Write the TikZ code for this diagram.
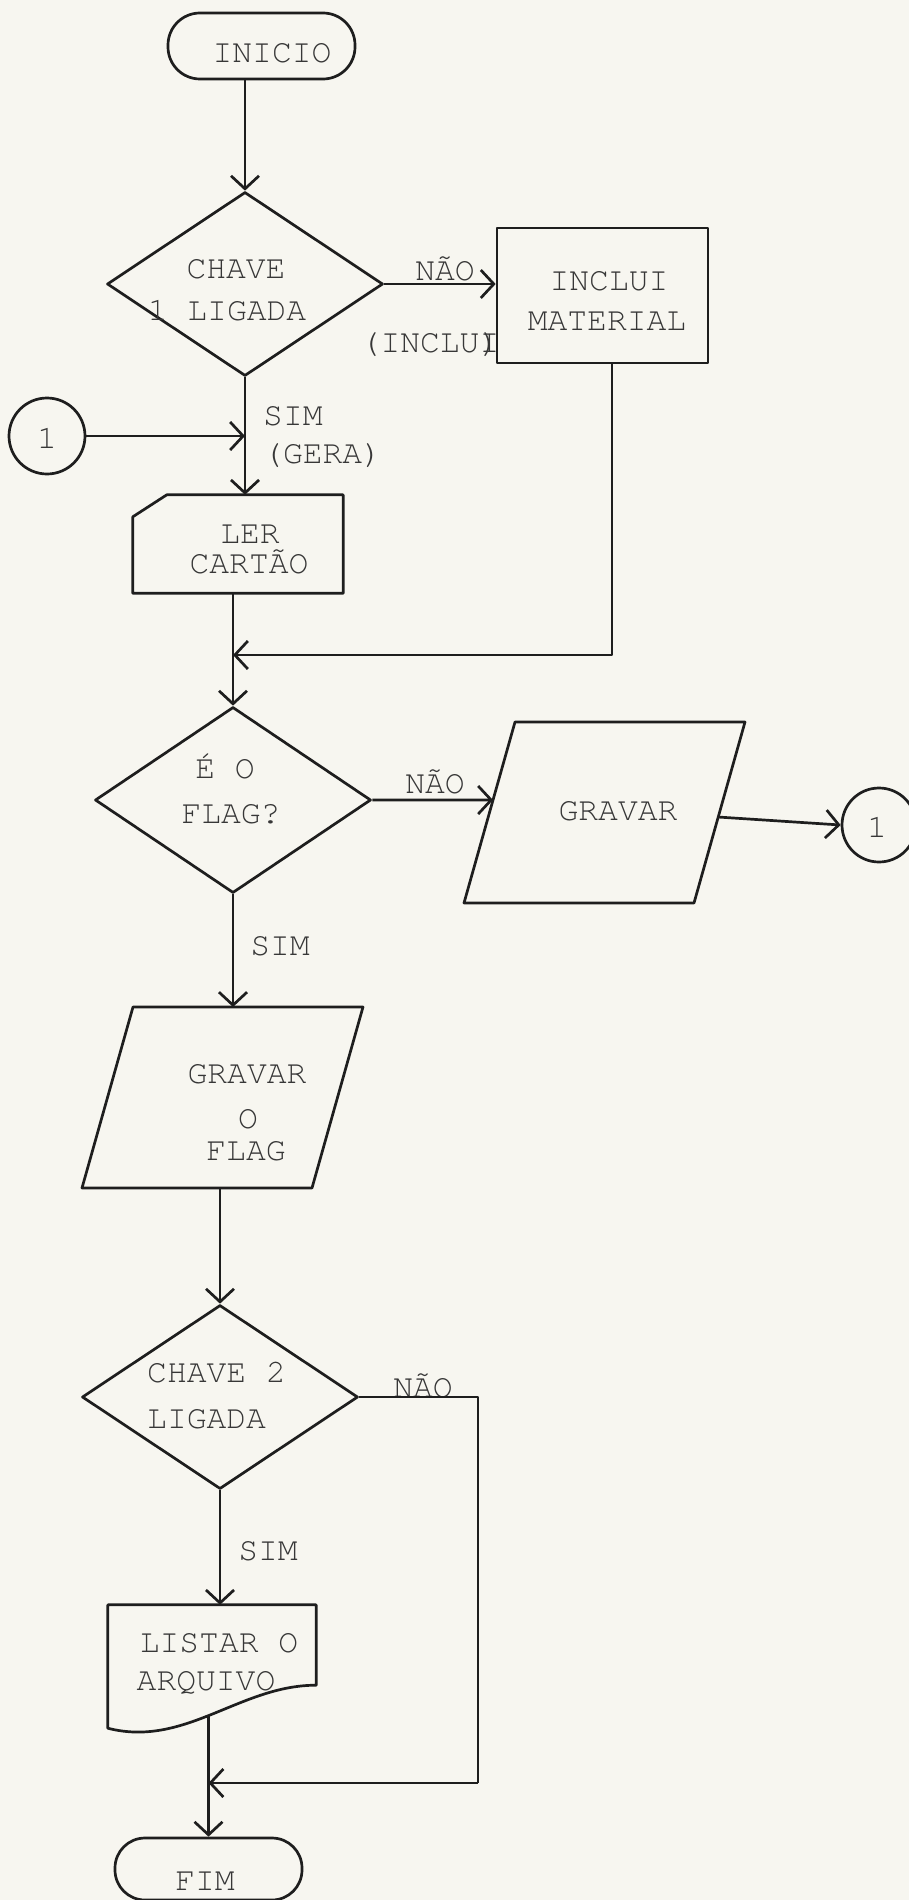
\documentclass[tikz,border=0pt]{standalone}
\usepackage{fontspec}
\newfontfamily\tw{TeX Gyre Cursor}
\usetikzlibrary{shapes.geometric,arrows.meta,calc}
\definecolor{paper}{RGB}{247,246,240}
\definecolor{ink}{RGB}{30,30,30}
\definecolor{inkt}{RGB}{55,55,55}
\begin{document}
\begin{tikzpicture}[x=1pt,y=-1pt,
 ln/.style={line width=2.7pt, draw=ink, line join=round},
 arr/.style={ln, -{Straight Barb[length=13pt,width=28pt]}},
 lbl/.style={font=\tw\fontsize{33}{40}\selectfont, text=inkt, inner sep=0pt, anchor=base},
 term/.style={ln, rectangle, rounded corners=32pt, minimum width=187pt, minimum height=66pt, inner sep=0pt},
 dec/.style={ln, diamond, minimum width=276pt, minimum height=184pt, inner sep=0pt},
 proc/.style={ln, rectangle, minimum width=211pt, minimum height=135pt, inner sep=0pt},
 conn/.style={ln, circle, minimum size=76pt, inner sep=0pt},
 ghost/.style={rectangle, draw=none, inner sep=0pt}
]
\fill[paper] (0,0) rectangle (909,1900);
\useasboundingbox (0,0) rectangle (909,1900);

% shapes
\node[term] (ini) at (261.5,46) {};
\node[dec] (d1) at (245,284) {};
\node[proc] (incl) at (602.5,295.5) {};
\node[conn] (c1) at (47,436) {};
\node[ghost, minimum width=210pt, minimum height=98pt] (card) at (238,544) {};
\draw[ln] ([xshift=34pt]card.north west) -- (card.north east) -- (card.south east)
  -- (card.south west) -- ([yshift=-22pt]card.north west) -- cycle;
\node[dec, minimum height=186pt] (d2) at (233,800) {};
% parallelogram GRAVAR
\coordinate (g1tl) at (515,722);
\coordinate (g1tr) at (745,722);
\coordinate (g1br) at (694,903);
\coordinate (g1bl) at (464,903);
\draw[ln] (g1tl) -- (g1tr) -- (g1br) -- (g1bl) -- cycle;
\coordinate (g1in) at ($(g1tl)!0.431!(g1bl)$);
\coordinate (g1out) at ($(g1tr)!0.525!(g1br)$);
\node[conn, minimum size=74pt] (c2) at (879,825) {};
% parallelogram GRAVAR O FLAG
\coordinate (g2tl) at (133,1007);
\coordinate (g2tr) at (363,1007);
\coordinate (g2br) at (312,1188);
\coordinate (g2bl) at (82,1188);
\draw[ln] (g2tl) -- (g2tr) -- (g2br) -- (g2bl) -- cycle;
\node[dec] (d3) at (220,1397) {};
\node[ghost, minimum width=208pt, minimum height=123pt] (doc) at (212,1666.5) {};
\draw[ln] (doc.north west) -- (doc.north east) -- ([yshift=43pt]doc.south east)
  .. controls (240,1685) and (185,1748) .. (doc.south west) -- cycle;
\node[term, minimum height=62pt, rounded corners=30pt] (fim) at (208.5,1869) {};

% texts
\node[lbl] (tini) at (272,63) {INICIO};
\node[lbl] (td1a) at (236,278) {CHAVE};
\node[lbl] (td1b) at (227,320) {1 LIGADA};
\node[lbl] (tnao1) at (445,280) {NÃO};
\node[lbl] (tinclud) at (430,352) {(INCLU\rlap{I})};
\node[lbl] (tincl1) at (609,290) {INCLUI};
\node[lbl] (tincl2) at (607,330) {MATERIAL};
\node[lbl] (tc1) at (47,448) {1};
\node[lbl, anchor=base west] (tsim1) at (263,425) {SIM};
\node[lbl, anchor=base west] (tgera) at (263,463) {(GERA)};
\node[lbl] (tler1) at (250,543) {LER};
\node[lbl] (tler2) at (249,573) {CARTÃO};
\node[lbl] (td2a) at (225,778) {É O};
\node[lbl] (td2b) at (231,823) {FLAG?};
\node[lbl] (tnao2) at (435,793) {NÃO};
\node[lbl] (tg1) at (618,820) {GRAVAR};
\node[lbl] (tc2) at (877,837) {1};
\node[lbl] (tsim2) at (280,955) {SIM};
\node[lbl] (tg2a) at (247,1083) {GRAVAR};
\node[lbl] (tg2b) at (248,1128) {O};
\node[lbl] (tg2c) at (246,1160) {FLAG};
\node[lbl, anchor=base west] (td3a) at (147,1382) {CHAVE 2};
\node[lbl, anchor=base west] (td3b) at (147,1428) {LIGADA};
\node[lbl] (tnao3) at (423,1397) {NÃO};
\node[lbl] (tsim3) at (268,1560) {SIM};
\node[lbl] (tdoc1) at (219,1652) {LISTAR O};
\node[lbl] (tdoc2) at (206,1690) {ARQUIVO};
\node[lbl] (tfim) at (205,1890) {FIM};

% helper coordinates
\coordinate (r1) at (612,655);
\coordinate (k1) at (478,1783);
\coordinate (docb) at (208.5,1716);
\coordinate (g2top) at (233,1007);
\coordinate (g2bot) at (220,1188);

% connectors
\draw[arr] (ini.south -| d1.north) -- (d1.north);
\draw[arr] (d1.east) -- (d1.east -| incl.west);
\draw[arr] (d1.south) -- (d1.south |- card.north);
\draw[arr] (c1.east) -- (c1.east -| d1.south);
\draw[arr] (card.south -| d2.north) -- (d2.north);
\draw[arr] (incl.south -| r1) -- (r1) -- (r1 -| d2.north);
\draw[arr] (d2.east) -- (g1in);
\draw[arr] (g1out) -- (c2.west);
\draw[arr] (d2.south) -- (g2top);
\draw[arr] (g2bot) -- (d3.north);
\draw[arr] (d3.south) -- (d3.south |- doc.north);
\draw[ln] (d3.east) -- (d3.east -| k1) -- (k1);
\draw[arr] (k1) -- (k1 -| fim.north);
\draw[arr] (docb) -- (fim.north);
\end{tikzpicture}
\end{document}
